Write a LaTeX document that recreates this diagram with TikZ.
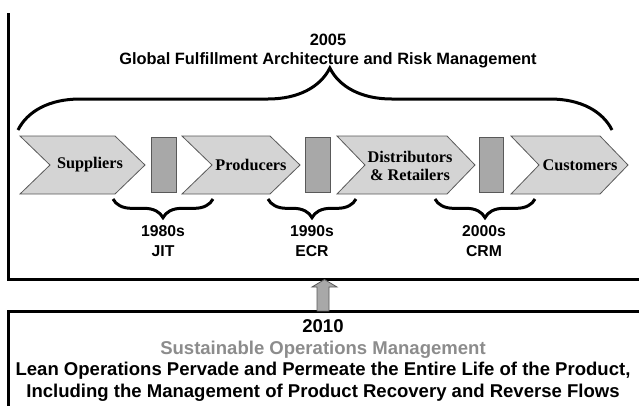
\documentclass[tikz,border=0pt]{standalone}
\usepackage{fontspec}
\setmainfont{Liberation Serif}
\setsansfont{Liberation Sans}
\usetikzlibrary{decorations.pathreplacing}
\definecolor{mchev}{rgb}{0.83, 0.83, 0.83}
\definecolor{mbar}{rgb}{0.66, 0.66, 0.66}
\definecolor{medge}{rgb}{0.35, 0.35, 0.35}
\definecolor{mgrey}{rgb}{0.55, 0.55, 0.55}
\tikzset{frame/.style = {line width=2.25pt},
         chev/.style = {fill=mchev, draw=medge, line width=0.6pt},
         bar/.style = {fill=mbar, draw=medge, line width=0.6pt},
         bigbrace/.style = {decorate, line width=2.25pt,
                            decoration={brace, amplitude=46.5pt, aspect=0.525}},
         era/.style = {decorate, line width=2.25pt,
                       decoration={brace, mirror, amplitude=14pt}},
         chevlabel/.style = {font=\fontsize{12.2}{13.5}\selectfont\bfseries, align=center},
         headline/.style = {font=\fontsize{12.3}{13.8}\selectfont\sffamily\bfseries, align=center},
         eralabel/.style = {font=\fontsize{11.8}{14.6}\selectfont\sffamily\bfseries, align=center}}

\begin{document}
\begin{tikzpicture}[x=0.75pt, y=-0.75pt]
    \useasboundingbox (0, 0) rectangle (639, 405);
    \draw [frame] (8.5, 13) -- (8.5, 279) -- (640, 279);
    \draw [frame] (640, 311) -- (8.5, 311) -- (8.5, 406);

    \node [headline] (title2005) at (328, 51) {2005\\Global Fulfillment Architecture and Risk Management};
    \draw [bigbrace] (18, 130) -- (612, 130);

    % chain of the four stages
    \draw [chev] (20, 136) -- (115, 136) -- (145, 165) -- (115, 194) -- (20, 194) -- (50, 165) -- cycle;
    \draw [chev] (182, 136) -- (270, 136) -- (300, 165) -- (270, 194) -- (182, 194) -- (212, 165) -- cycle;
    \draw [chev] (337, 136) -- (447, 136) -- (475, 165) -- (447, 194) -- (337, 194) -- (365, 165) -- cycle;
    \draw [chev] (511, 136) -- (600, 136) -- (628, 165) -- (600, 194) -- (511, 194) -- (539, 165) -- cycle;
    \draw [bar] (151, 137) rectangle (176, 192);
    \draw [bar] (305, 137) rectangle (330, 192);
    \draw [bar] (479, 137) rectangle (503, 192);

    \node [chevlabel] (suppliers) at (90, 165) {Suppliers};
    \node [chevlabel] (producers) at (251, 165) {Producers};
    \node [chevlabel] (distributors) at (410, 166) {Distributors\\\& Retailers};
    \node [chevlabel] (customers) at (580, 165) {Customers};

    \draw [era] (113, 199) -- (213, 199);
    \draw [era] (268, 199) -- (356, 199);
    \draw [era] (435, 199) -- (535, 199);
    \node [eralabel] (jit) at (163, 241) {1980s\\JIT};
    \node [eralabel] (ecr) at (312, 241) {1990s\\ECR};
    \node [eralabel] (crm) at (484, 241) {2000s\\CRM};

    \draw [fill=mbar, draw=medge, line width=0.6pt] (317, 311) -- (317, 287) -- (312, 287) -- (324.5, 279.5)
        -- (337, 287) -- (329, 287) -- (329, 311) -- cycle; % lift arrow

    \node [headline, font=\fontsize{13.9}{16.3}\selectfont\sffamily\bfseries] (sustain) at (323, 360.5)
        {2010\\\textcolor{mgrey}{Sustainable Operations Management}\\
         Lean Operations Pervade and Permeate the Entire Life of the Product,\\
         Including the Management of Product Recovery and Reverse Flows};
\end{tikzpicture}
\end{document}
